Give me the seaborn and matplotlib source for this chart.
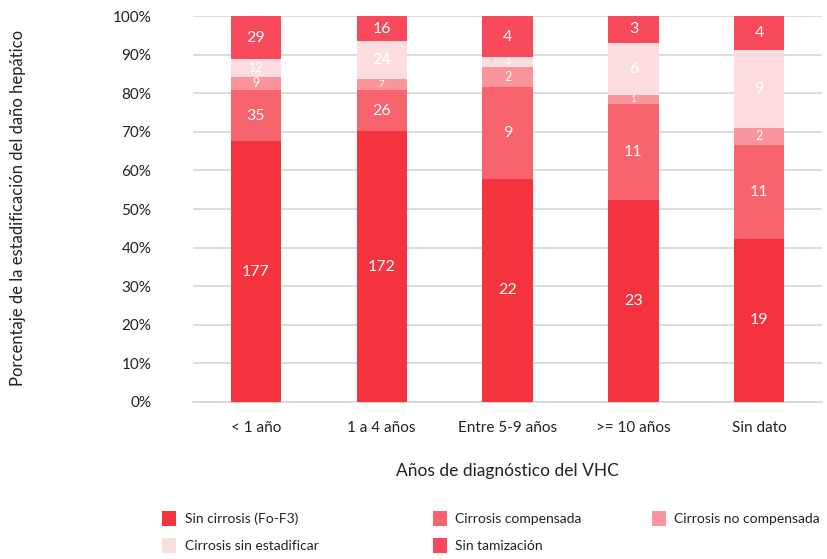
import numpy as np
import pandas as pd
import matplotlib
matplotlib.use("Agg")
import matplotlib.pyplot as plt
import seaborn as sns
from matplotlib.patches import Patch

# Years since HCV diagnosis
categories = ["< 1 año", "1 a 4 años", "Entre 5-9 años", ">= 10 años", "Sin dato"]

# Patient counts per liver damage stage
sin_cirrosis = [177, 172, 22, 23, 19]
cirrosis_compensada = [35, 26, 9, 11, 11]
cirrosis_no_compensada = [9, 7, 2, 1, 2]
cirrosis_sin_estadificar = [12, 24, 1, 6, 9]
sin_tamizacion = [29, 16, 4, 3, 4]

series_names = ["Sin cirrosis (Fo-F3)", "Cirrosis compensada", "Cirrosis no compensada",
                "Cirrosis sin estadificar", "Sin tamización"]
colors = ["#F5333F", "#F8646E", "#F9959B", "#FCDDE0", "#F84A5A"]

yticks = [0, 10, 20, 30, 40, 50, 60, 70, 80, 90, 100]

counts = np.array([sin_cirrosis, cirrosis_compensada, cirrosis_no_compensada,
                   cirrosis_sin_estadificar, sin_tamizacion], dtype=float)
pct = counts / counts.sum(axis=0) * 100
cum = np.cumsum(pct, axis=0)

sns.set_theme(style="white")
plt.rcParams["font.family"] = ["Lato", "DejaVu Sans"]

fig = plt.figure(figsize=(8.28, 5.59), dpi=100)
ax = fig.add_axes([0.233, 0.281, 0.760, 0.690])

# Stacked bars: draw cumulative totals from the top segment downwards
for i in range(len(series_names) - 1, -1, -1):
    df = pd.DataFrame({"cat": categories, "val": cum[i]})
    sns.barplot(data=df, x="cat", y="val", color=colors[i], width=0.4,
                saturation=1, ax=ax, zorder=3, linewidth=0)

# Segment value labels
for i in range(len(series_names)):
    for j in range(len(categories)):
        h = pct[i, j]
        mid = cum[i, j] - h / 2
        if h < 3:
            fs = 7
        elif h < 6:
            fs = 9
        else:
            fs = 11.5
        ax.text(j, mid, str(int(counts[i, j])), ha="center", va="center",
                color="white", fontsize=fs, zorder=5)

ax.set_ylim(0, 100)
ax.set_xlim(-0.5, 4.5)
ax.set_yticks(yticks)
ax.set_yticklabels([f"{v}%" for v in yticks], fontsize=11, color="#222222")
ax.tick_params(axis="x", labelsize=11, colors="#222222", length=0, pad=14)
ax.tick_params(axis="y", length=0, pad=30)
ax.yaxis.grid(True, color="#D9D9D9", linewidth=1.3, zorder=0)
ax.set_axisbelow(True)
for s in ["top", "right", "left"]:
    ax.spines[s].set_visible(False)
ax.spines["bottom"].set_color("#D9D9D9")
ax.spines["bottom"].set_linewidth(1.3)

ax.set_xlabel("Años de diagnóstico del VHC", fontsize=12.5, color="#222222", labelpad=20)
fig.text(0.022, 0.628, "Porcentaje de la estadificación del daño hepático", rotation=90,
         ha="center", va="center", fontsize=12, color="#222222")
ax.set_ylabel("")

# Legend laid out in three columns
handles = [Patch(facecolor=c, edgecolor="none") for c in colors]
columns = [([0, 3], 0.196), ([1, 4], 0.523), ([2], 0.787)]
for idx, x0 in columns:
    leg = fig.legend([handles[k] for k in idx], [series_names[k] for k in idx],
                     loc="upper left", bbox_to_anchor=(x0, 0.086), frameon=False,
                     fontsize=10, handlelength=1.0, handleheight=1.3,
                     handletextpad=0.6, labelspacing=0.85, borderpad=0, borderaxespad=0)
    for t in leg.get_texts():
        t.set_color("#222222")

fig.savefig("out.png", dpi=100)
